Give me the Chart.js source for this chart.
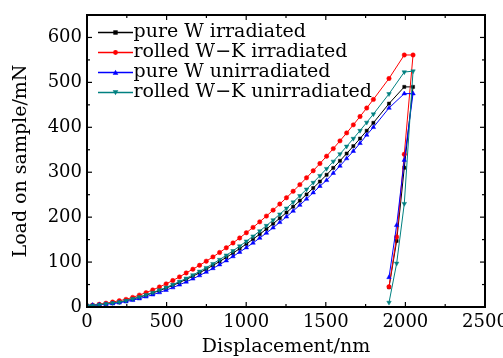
<!DOCTYPE html>
<html>
<head>
<meta charset="utf-8">
<script src="https://cdn.jsdelivr.net/npm/chart.js@4.4.1/dist/chart.umd.min.js"></script>
<style>
  html, body { margin: 0; padding: 0; background: #fff; }
</style>
</head>
<body>
<canvas id="grafico" width="503" height="358"></canvas>
<script>
// deslocamento (nm): carga, patamar e descarga
var deslocamento = [0, 35, 77, 119, 161, 203, 245, 287, 329, 371, 413, 455, 497, 539, 581, 623, 665, 707, 749, 791,
  833, 875, 917, 959, 1001, 1043, 1085, 1127, 1169, 1211, 1253, 1295, 1337, 1379, 1421, 1463, 1505, 1547, 1589, 1631,
  1673, 1715, 1757, 1799, 1897, 1993, 2048, 1993, 1945, 1897];

var puroIrradiado = [3, 3.5, 5, 7, 9, 10.6, 14, 17.7, 21.8, 26.3, 31.2, 36.4, 42.1, 48.1, 54.6, 61.4, 68.6, 76.2, 84.2, 92.6,
  101.3, 110.5, 120, 129.9, 140.3, 151, 162, 173.5, 185.4, 197.7, 210.3, 223.3, 236.7, 250.6, 264.8, 279.3, 294.3, 309.7, 325.4, 341.6,
  358.1, 375, 392.3, 410, 452.8, 490, 490, 310, 147, 44];

var laminadoIrradiado = [3, 4, 6, 8.5, 11, 14, 17, 21.5, 26.5, 32, 38, 44.5, 51.5, 59, 67, 75.8, 84.1, 92.8, 102, 111.5,
  121.4, 131.8, 142.6, 153.7, 165.3, 177.2, 189.6, 202.4, 215.6, 229.2, 243.2, 257.6, 272.4, 287.6, 303.3, 319.3, 335.7, 352.6, 369.8, 387.5,
  405.5, 424, 442.9, 462.1, 508.7, 561, 561, 340, 156, 45];

var puroNaoIrradiado = [4, 4, 5, 6, 7.5, 9.5, 12, 15, 18.7, 22.8, 27.4, 32.3, 37.6, 43.3, 49.4, 55.9, 62.8, 70.1, 77.8, 85.9,
  94.4, 103.3, 112.5, 122.2, 132.2, 142.7, 153.6, 164.8, 176.4, 188.5, 200.9, 213.7, 226.9, 240.6, 254.6, 269, 282, 298, 314, 330.6,
  346.9, 364.5, 383, 400, 443, 475, 475, 327, 182, 66];

var laminadoNaoIrradiado = [3, 3.5, 5, 7, 9, 10.9, 14.3, 18.2, 22.4, 27.1, 32.2, 37.7, 43.6, 49.9, 56.6, 63.7, 71.2, 79.2, 87.5, 96.3,
  105.5, 115.1, 125.1, 135.5, 146.3, 157.5, 169.1, 181.1, 193.6, 206.5, 219.7, 233.4, 247.5, 262, 276.9, 292.2, 307.9, 324, 340.6, 357.5,
  374.9, 392.6, 410.8, 429.4, 474.4, 523, 525, 230, 97, 10];

var rotulosY = [0, 100, 200, 300, 400, 500, 600];

var fonte = "'DejaVu Serif', serif";

function pontos(cargas) {
  return deslocamento.map(function (x, i) { return { x: x, y: cargas[i] }; });
}

// amostra da legenda: linha com o marcador no meio
function amostra(cor, estilo) {
  var c = document.createElement('canvas');
  c.width = 56; c.height = 13;
  var g = c.getContext('2d');
  g.strokeStyle = cor; g.fillStyle = cor; g.lineWidth = 1.3;
  g.beginPath(); g.moveTo(20, 6.5); g.lineTo(55, 6.5); g.stroke();
  var cx = 37.5, cy = 6.5, r = 2.8;
  g.beginPath();
  if (estilo === 'rect') {
    g.rect(cx - 2.2, cy - 2.2, 4.4, 4.4);
  } else if (estilo === 'circle') {
    g.arc(cx, cy, 2.4, 0, Math.PI * 2);
  } else if (estilo === 'up') {
    g.moveTo(cx, cy - r); g.lineTo(cx + r, cy + r * 0.8); g.lineTo(cx - r, cy + r * 0.8); g.closePath();
  } else {
    g.moveTo(cx, cy + r); g.lineTo(cx + r, cy - r * 0.8); g.lineTo(cx - r, cy - r * 0.8); g.closePath();
  }
  g.fill();
  return c;
}

function serie(rotulo, cargas, cor, estilo, rot, ordem, marca) {
  return {
    label: rotulo,
    data: pontos(cargas),
    borderColor: cor,
    backgroundColor: cor,
    borderWidth: 1,
    pointStyle: estilo,
    pointRotation: rot,
    pointRadius: estilo === 'triangle' ? 2.6 : 2.2,
    pointBorderWidth: 0.5,
    tension: 0,
    order: ordem,
    amostra: amostra(cor, marca)
  };
}

var moldura = {
  id: 'moldura',
  afterDraw: function (chart) {
    var ctx = chart.ctx, a = chart.chartArea, sx = chart.scales.x, sy = chart.scales.y;
    ctx.save();
    ctx.strokeStyle = '#000';
    ctx.lineWidth = 1.2;
    function risco(x1, y1, x2, y2) { ctx.beginPath(); ctx.moveTo(x1, y1); ctx.lineTo(x2, y2); ctx.stroke(); }
    var passoX = sx.ticks[1].value - sx.ticks[0].value;
    for (var v = sx.min; v <= sx.max + 0.1; v += passoX / 2) {
      var px = sx.getPixelForValue(v);
      var len = (v % passoX === 0) ? 5 : 3;
      risco(px, a.bottom, px, a.bottom - len);
      risco(px, a.top, px, a.top + len);
    }
    var passoY = sy.ticks[1].value - sy.ticks[0].value;
    for (var w = sy.min; w <= sy.max + 0.1; w += passoY / 2) {
      var py = sy.getPixelForValue(w);
      var l2 = (w % passoY === 0) ? 5 : 3;
      risco(a.left, py, a.left + l2, py);
      risco(a.right, py, a.right - l2, py);
    }
    ctx.lineWidth = 2;
    ctx.strokeRect(a.left, a.top, a.right - a.left, a.bottom - a.top);
    ctx.restore();
  }
};

var ctx = document.getElementById('grafico').getContext('2d');
var chart = new Chart(ctx, {
  type: 'line',
  data: {
    datasets: [
      serie('pure W irradiated', puroIrradiado, '#000000', 'rect', 0, 4, 'rect'),
      serie('rolled W\u2212K irradiated', laminadoIrradiado, '#ff0000', 'circle', 0, 3, 'circle'),
      serie('pure W unirradiated', puroNaoIrradiado, '#0000ff', 'triangle', 0, 2, 'up'),
      serie('rolled W\u2212K unirradiated', laminadoNaoIrradiado, '#008080', 'triangle', 180, 1, 'down')
    ]
  },
  options: {
    responsive: false,
    animation: false,
    devicePixelRatio: 1,
    layout: { padding: { left: 0, right: 18, top: 15, bottom: 0 } },
    plugins: {
      tooltip: { enabled: false },
      legend: {
        position: 'chartArea',
        align: 'start',
        title: { display: true, text: ' ', font: { size: 22, lineHeight: 1 }, padding: 0 },
        labels: {
          usePointStyle: true,
          pointStyleWidth: 36,
          padding: 1,
          color: '#000',
          font: { family: fonte, size: 19 },
          sort: function (a, b) { return a.datasetIndex - b.datasetIndex; },
          generateLabels: function (chart) {
            var itens = Chart.defaults.plugins.legend.labels.generateLabels(chart);
            itens.forEach(function (it) {
              it.pointStyle = chart.data.datasets[it.datasetIndex].amostra;
              it.rotation = 0;
            });
            return itens;
          }
        }
      }
    },
    scales: {
      x: {
        type: 'linear',
        min: 0,
        max: 2500,
        grid: { display: false, drawTicks: false },
        border: { display: false },
        ticks: { stepSize: 500, color: '#000', padding: 5, maxRotation: 0, font: { family: fonte, size: 18 },
          callback: function (v) { return String(v); } },
        title: { display: true, text: 'Displacement/nm', color: '#000', padding: { top: 0, bottom: 0 }, font: { family: fonte, size: 19 } },
        afterFit: function (s) { s.height = 51; s.paddingLeft = 0; s.paddingRight = 0; }
      },
      y: {
        min: 0,
        max: 650,
        grid: { display: false, drawTicks: false },
        border: { display: false },
        ticks: { color: '#000', padding: 5, font: { family: fonte, size: 18 }, callback: function (v) { return String(v); } },
        afterBuildTicks: function (s) { s.ticks = rotulosY.map(function (v) { return { value: v }; }); },
        title: { display: true, text: 'Load on sample/mN', color: '#000', padding: { top: 10, bottom: 0 }, font: { family: fonte, size: 19 } },
        afterFit: function (s) { s.width = 87; s.paddingTop = 0; s.paddingBottom = 0; }
      }
    }
  },
  plugins: [moldura]
});
</script>
</body>
</html>
